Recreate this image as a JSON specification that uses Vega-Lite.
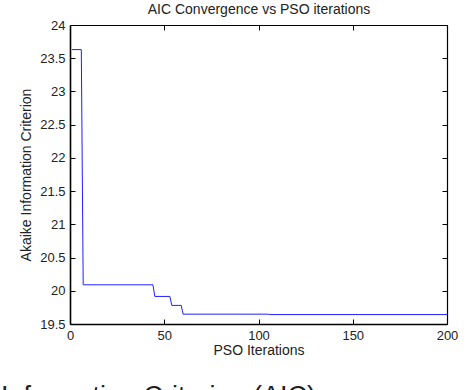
{
  "$schema": "https://vega.github.io/schema/vega-lite/v6.json",
  "width": 377,
  "height": 299,
  "autosize": {"type": "none"},
  "padding": {"left": 70, "top": 25, "right": 25, "bottom": 66},
  "background": "white",
  "title": {
    "text": "Information Criterion (AIC) convergence",
    "orient": "bottom",
    "anchor": "start",
    "frame": "group",
    "dx": -69,
    "offset": 27,
    "fontSize": 27,
    "font": "Liberation Sans",
    "fontWeight": "normal",
    "color": "#222222"
  },
  "data": {
    "values": [
      {"iteration": 1, "aic": 23.63},
      {"iteration": 6, "aic": 23.63},
      {"iteration": 7, "aic": 20.09},
      {"iteration": 44, "aic": 20.09},
      {"iteration": 45, "aic": 19.915},
      {"iteration": 53, "aic": 19.915},
      {"iteration": 54, "aic": 19.78},
      {"iteration": 59, "aic": 19.78},
      {"iteration": 60, "aic": 19.648},
      {"iteration": 105, "aic": 19.648},
      {"iteration": 106, "aic": 19.642},
      {"iteration": 200, "aic": 19.642}
    ]
  },
  "config": {
    "view": {"stroke": null},
    "axis": {
      "domainColor": "#000000",
      "domainWidth": 1.2,
      "tickColor": "#000000",
      "tickSize": -5,
      "tickWidth": 1,
      "grid": false,
      "labelFlush": false,
      "labelOverlap": false,
      "labelFont": "Liberation Sans",
      "labelFontSize": 13,
      "labelColor": "#222222",
      "titleFont": "Liberation Sans",
      "titleFontSize": 14,
      "titleFontWeight": "normal",
      "titleColor": "#222222"
    }
  },
  "layer": [
    {
      "mark": {"type": "line", "color": "#2020ff", "strokeWidth": 1, "interpolate": "linear"},
      "encoding": {
        "x": {
          "field": "iteration",
          "type": "quantitative",
          "scale": {"domain": [0, 200], "nice": false},
          "axis": {"orient": "bottom", "title": "PSO Iterations", "values": [0, 50, 100, 150, 200], "labelPadding": 10, "titlePadding": 1, "domainWidth": 1.6}
        },
        "y": {
          "field": "aic",
          "type": "quantitative",
          "scale": {"domain": [19.5, 24], "nice": false, "zero": false},
          "axis": {"orient": "left", "title": "Akaike Information Criterion", "values": [19.5, 20, 20.5, 21, 21.5, 22, 22.5, 23, 23.5, 24], "format": "~g", "labelPadding": 10, "titlePadding": 6, "domainWidth": 1.6}
        }
      }
    },
    {
      "mark": {"type": "line", "opacity": 0},
      "encoding": {
        "x": {
          "field": "iteration",
          "type": "quantitative",
          "axis": {"orient": "top", "title": "AIC Convergence vs PSO iterations", "values": [0, 50, 100, 150, 200], "labels": false, "titlePadding": 8}
        },
        "y": {
          "field": "aic",
          "type": "quantitative",
          "axis": {"orient": "right", "title": null, "values": [19.5, 20, 20.5, 21, 21.5, 22, 22.5, 23, 23.5, 24], "labels": false}
        }
      }
    }
  ],
  "resolve": {"axis": {"x": "independent", "y": "independent"}}
}
